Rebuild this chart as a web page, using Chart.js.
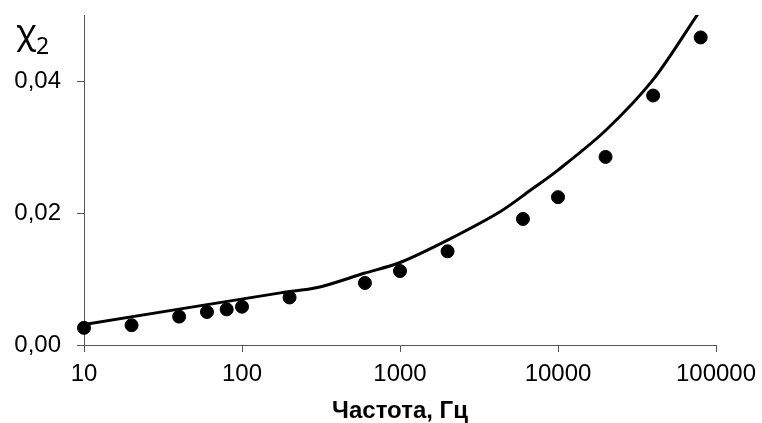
<!DOCTYPE html>
<html>
<head>
<meta charset="utf-8">
<script src="https://cdn.jsdelivr.net/npm/chart.js@4.4.1/dist/chart.umd.min.js"></script>
<style>
  html, body { margin: 0; padding: 0; background: #fff; }
  #wrap { width: 762px; height: 423px; }
</style>
</head>
<body>
<div id="wrap"><canvas id="chart" width="762" height="423"></canvas></div>
<script>
// measured points
const freqs = [10, 20, 40, 60, 80, 100, 200, 600, 1000, 2000, 6000, 10000, 20000, 40000, 80000];
const chiValues = [0.0026, 0.0030, 0.0043, 0.0050, 0.0054, 0.0058, 0.0072, 0.0094, 0.0112, 0.0142, 0.0191, 0.0224, 0.0285, 0.0378, 0.0466];

// fitted curve
const fitFreqs = [10, 175, 300, 600, 1000, 2000, 4300, 6650, 10000, 20000, 40000, 77000];
const fitValues = [0.0031, 0.0079, 0.0087, 0.0109, 0.0125, 0.0159, 0.0202, 0.0234, 0.0265, 0.0325, 0.0402, 0.0502];

const xTicks = [10, 100, 1000, 10000, 100000];
const yTicks = [0, 0.02, 0.04];

const axisColor = "#555555";

// y axis caption "χ2" in the top-left corner
const chiLabel = {
  id: "chiLabel",
  afterDraw: (chart) => {
    const ctx = chart.ctx;
    ctx.save();
    ctx.fillStyle = "#000";
    ctx.textBaseline = "alphabetic";
    ctx.font = "34px 'Noto Sans'";
    ctx.fillText("χ", 16, 44);
    ctx.font = "23px 'Noto Sans'";
    ctx.fillText("2", 36, 54);
    ctx.restore();
  }
};

new Chart(document.getElementById("chart").getContext("2d"), {
  plugins: [chiLabel],
  data: {
    datasets: [
      {
        type: "scatter",
        data: freqs.map((f, i) => ({ x: f, y: chiValues[i] })),
        backgroundColor: "#000",
        borderColor: "#000",
        pointRadius: 6.5,
        pointHoverRadius: 6.5,
        clip: false,
        order: 1
      },
      {
        type: "line",
        data: fitFreqs.map((f, i) => ({ x: f, y: fitValues[i] })),
        borderColor: "#000",
        borderWidth: 3,
        pointRadius: 0,
        fill: false,
        tension: 0.3,
        order: 2
      }
    ]
  },
  options: {
    responsive: false,
    animation: false,
    layout: { padding: { top: 15, right: 46, left: 0, bottom: 0 } },
    plugins: {
      legend: { display: false },
      tooltip: { enabled: false }
    },
    scales: {
      x: {
        type: "logarithmic",
        min: 10,
        max: 100000,
        afterBuildTicks: (scale) => { scale.ticks = xTicks.map(v => ({ value: v })); },
        afterFit: (scale) => {
          scale.height = 78;
          scale.paddingLeft = 0;
          scale.paddingRight = 0;
        },
        border: { display: true, color: axisColor, width: 1 },
        grid: { drawOnChartArea: false, drawTicks: true, tickLength: 7, color: axisColor },
        ticks: {
          color: "#000",
          padding: 8,
          maxRotation: 0,
          font: { family: "'Liberation Sans', Arial", size: 24 },
          callback: (v) => String(v)
        },
        title: {
          display: true,
          text: "Частота, Гц",
          color: "#000",
          padding: 0,
          font: { family: "'Liberation Sans', Arial", size: 24, weight: "bold", lineHeight: 1 }
        }
      },
      y: {
        type: "linear",
        min: 0,
        max: 0.05,
        afterBuildTicks: (scale) => { scale.ticks = yTicks.map(v => ({ value: v })); },
        afterFit: (scale) => {
          scale.width = 84;
          scale.paddingTop = 0;
          scale.paddingBottom = 0;
        },
        border: { display: true, color: axisColor, width: 1 },
        grid: { drawOnChartArea: false, drawTicks: true, tickLength: 7, color: axisColor },
        ticks: {
          color: "#000",
          padding: 16,
          font: { family: "'Liberation Sans', Arial", size: 24 },
          callback: (v) => v.toFixed(2).replace(".", ",")
        }
      }
    }
  }
});
</script>
</body>
</html>
